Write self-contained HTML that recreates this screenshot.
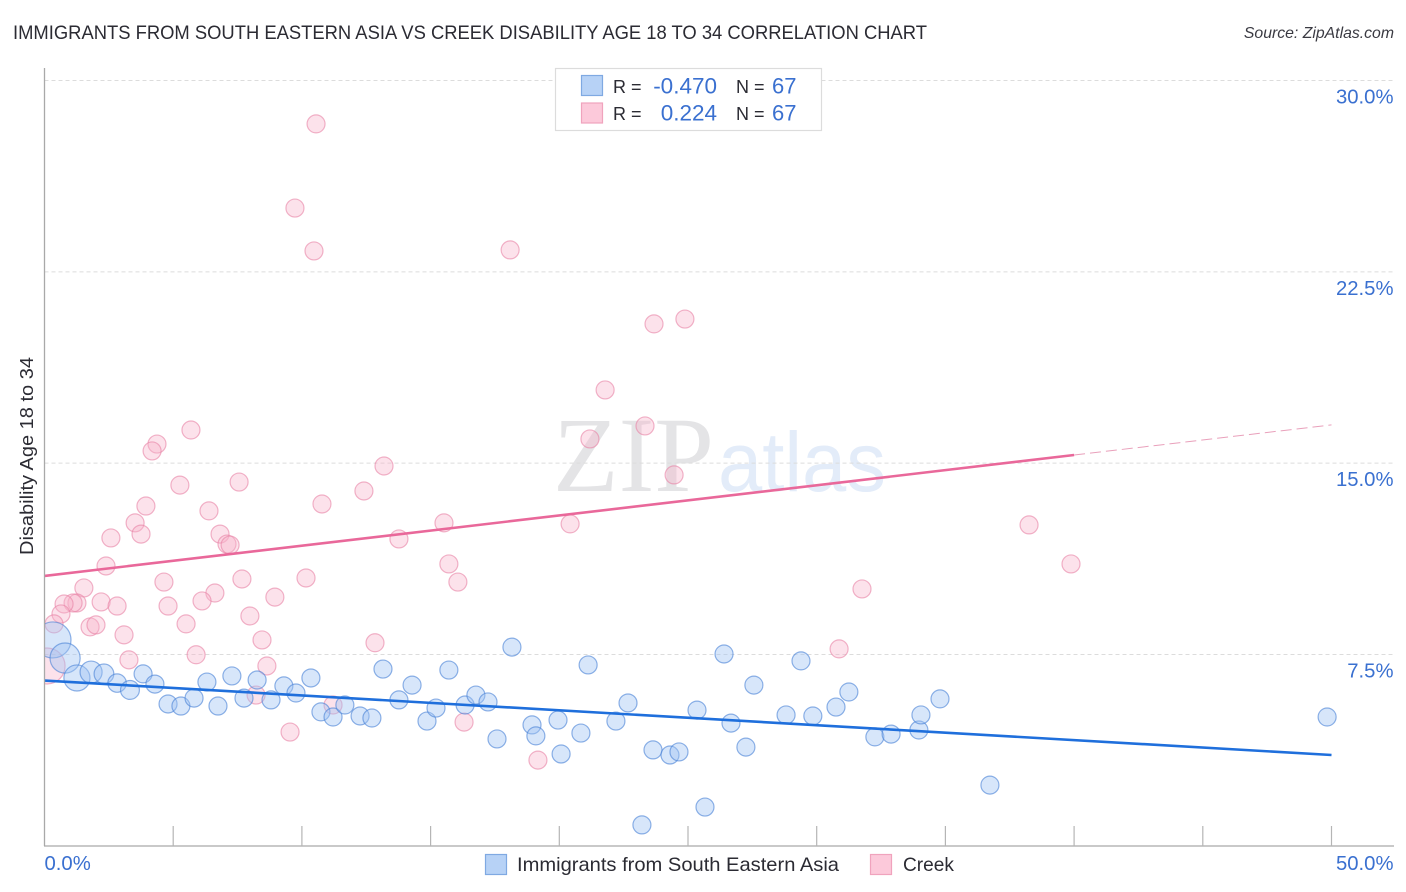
<!DOCTYPE html>
<html>
<head>
<meta charset="utf-8">
<title>Immigrants from South Eastern Asia vs Creek Disability Age 18 to 34 Correlation Chart</title>
<style>
html,body{margin:0;padding:0;background:#fff;}
svg{display:block;font-family:"Liberation Sans",sans-serif;}
</style>
</head>
<body>
<svg id="chart" width="1406" height="892" viewBox="0 0 1406 892" xmlns="http://www.w3.org/2000/svg">
  <defs>
    <clipPath id="plotClip"><rect x="44.5" y="60" width="1350" height="786"/></clipPath>
  </defs>
  <text x="13" y="39" font-size="19.5" fill="#2b2b33" textLength="914" lengthAdjust="spacingAndGlyphs">IMMIGRANTS FROM SOUTH EASTERN ASIA VS CREEK DISABILITY AGE 18 TO 34 CORRELATION CHART</text>
  <text x="1394" y="38" font-size="15.8" font-style="italic" fill="#3a3a42" text-anchor="end">Source: ZipAtlas.com</text>

  <g>
    <text x="553" y="491" font-family="'Liberation Serif',serif" font-size="107" fill="#e4e4e6" textLength="161" lengthAdjust="spacingAndGlyphs">ZIP</text>
    <text x="718" y="491" font-size="84" fill="#e3ecf9" textLength="168" lengthAdjust="spacingAndGlyphs">atlas</text>
  </g>

  <g id="grid"></g>
  <g id="pinkPts" clip-path="url(#plotClip)"></g>
  <g id="bluePts" clip-path="url(#plotClip)"></g>
  <g id="lines"></g>
  <g id="axes"></g>

  <text transform="translate(33,456) rotate(-90)" font-size="18" fill="#2b2b33" text-anchor="middle" textLength="198" lengthAdjust="spacingAndGlyphs">Disability Age 18 to 34</text>

  <g>
    <rect x="555.5" y="68.5" width="266" height="62" fill="#fff" stroke="#dcdcdc" stroke-width="1.2"/>
    <rect x="581.5" y="75.5" width="21" height="20" fill="#b7d2f6" stroke="#7fa9e2" stroke-width="1.2"/>
    <rect x="581.5" y="103" width="21" height="20" fill="#fcc9da" stroke="#f0a3bd" stroke-width="1.2"/>
    <text x="613" y="93" font-size="18" fill="#2b2b33">R =</text>
    <text x="717" y="93.5" font-size="22.5" fill="#3a70d0" text-anchor="end">-0.470</text>
    <text x="736" y="93" font-size="18" fill="#2b2b33">N =</text>
    <text x="772" y="93.5" font-size="22" fill="#3a70d0">67</text>
    <text x="613" y="120" font-size="18" fill="#2b2b33">R =</text>
    <text x="717" y="120.5" font-size="22.5" fill="#3a70d0" text-anchor="end">0.224</text>
    <text x="736" y="120" font-size="18" fill="#2b2b33">N =</text>
    <text x="772" y="120.5" font-size="22" fill="#3a70d0">67</text>
  </g>

  <g>
    <rect x="485.5" y="854.5" width="21" height="20" fill="#b7d2f6" stroke="#7fa9e2" stroke-width="1.2"/>
    <text x="517" y="871" font-size="19.5" fill="#2b2b33" textLength="322" lengthAdjust="spacingAndGlyphs">Immigrants from South Eastern Asia</text>
    <rect x="870.5" y="854.5" width="21" height="20" fill="#fcc9da" stroke="#f0a3bd" stroke-width="1.2"/>
    <text x="903" y="871" font-size="19.5" fill="#2b2b33" textLength="51" lengthAdjust="spacingAndGlyphs">Creek</text>
  </g>
</svg>

<script>
var yTickValues = [7.5, 15, 22.5, 30];
var yTickLabels = ["7.5%", "15.0%", "22.5%", "30.0%"];
var xTickValues = [0, 5, 10, 15, 20, 25, 30, 35, 40, 45, 50];
var xEndValues = [0, 50];
var xEndLabels = ["0.0%", "50.0%"];

var blueX = [0.33,0.80,1.26,1.81,2.31,2.82,3.32,3.83,4.29,4.80,5.30,5.81,6.31,6.74,7.28,7.75,8.26,8.80,9.30,9.77,10.35,10.74,11.21,11.67,12.26,12.72,13.15,13.77,14.28,14.86,15.21,15.71,16.34,16.76,17.23,17.58,18.16,18.94,19.09,19.95,20.07,20.84,21.12,22.20,22.67,23.21,23.64,24.30,24.65,25.35,25.66,26.40,26.67,27.25,27.56,28.81,29.39,29.85,30.75,31.25,32.26,32.89,33.97,34.05,34.79,36.73,49.83];
var blueY = [8.07,7.36,6.58,6.81,6.74,6.38,6.11,6.74,6.34,5.56,5.48,5.79,6.42,5.48,6.66,5.79,6.50,5.72,6.27,5.99,6.58,5.25,5.05,5.52,5.09,5.01,6.93,5.72,6.30,4.89,5.40,6.89,5.52,5.91,5.64,4.19,7.79,4.74,4.31,4.93,3.60,4.42,7.09,4.89,5.60,0.82,3.76,3.56,3.68,5.32,1.52,7.52,4.81,3.87,6.30,5.13,7.25,5.09,5.44,6.03,4.27,4.38,4.54,5.13,5.76,2.38,5.05];
var blueWeight = [4,2.8,2.1,1.5,1.2,1.05,1.1];

var pinkX = [2.39,4.64,1.53,7.67,10.16,6.62,6.12,8.95,2.20,2.82,4.80,1.26,1.11,0.76,7.98,0.64,5.50,0.37,1.77,2.00,8.45,3.09,3.28,5.89,8.64,0.10,8.22,11.21,9.54,10.55,9.73,10.47,18.09,23.68,24.88,21.78,23.33,21.19,5.69,4.37,4.18,5.26,7.56,13.19,12.41,10.78,3.94,6.39,3.52,3.75,2.58,6.82,7.09,7.21,15.52,20.42,13.77,15.71,16.06,24.46,38.25,39.88,31.76,30.87,12.84,16.30,19.17];
var pinkY = [10.97,10.34,10.11,10.46,10.50,9.91,9.60,9.75,9.56,9.40,9.40,9.52,9.52,9.48,9.01,9.09,8.70,8.70,8.58,8.66,8.07,8.27,7.29,7.49,7.05,7.05,5.91,5.52,4.46,28.30,25.00,23.32,23.36,20.46,20.65,17.87,16.46,15.95,16.30,15.75,15.48,14.14,14.26,14.89,13.91,13.40,13.32,13.13,12.66,12.22,12.07,12.22,11.83,11.79,12.66,12.62,12.03,11.05,10.34,14.54,12.58,11.05,10.07,7.72,7.96,4.85,3.36];
var pinkBigIndex = [25];
var pinkBigWeight = [4];

var blueTrendX = [0, 50];
var blueTrendY = [6.48, 3.56];
var pinkTrendX = [0, 40];
var pinkTrendY = [10.58, 15.32];
var pinkDashX = [40, 50];
var pinkDashY = [15.32, 16.5];

function xScale(v) { return 44.5 + v * 25.74; }
function yScale(v) { return 654.5 - (v - 7.5) * 25.51; }
function rScale(w) { return 9 * Math.sqrt(w); }

var NS = "http://www.w3.org/2000/svg";
function make(tag, parentId, attrs, txt) {
  var el = document.createElementNS(NS, tag);
  for (var k in attrs) { el.setAttribute(k, attrs[k]); }
  if (txt !== undefined) { el.textContent = txt; }
  document.getElementById(parentId).appendChild(el);
  return el;
}
var el, i;

for (i = 0; i < yTickValues.length; i++) {
  el = make("line", "grid", {x1: 44.5, x2: 1393, y1: yScale(yTickValues[i]), y2: yScale(yTickValues[i]), stroke: "#dcdcdc", "stroke-width": 1, "stroke-dasharray": "4 3"});
  
  
  el = make("text", "axes", {x: 1393.5, y: yScale(yTickValues[i]) + 23, "font-size": 20.3, fill: "#3a70d0", "text-anchor": "end"}, yTickLabels[i]);
  
  
}

el = make("line", "axes", {x1: 44.5, x2: 44.5, y1: 68, y2: 846, stroke: "#a9a9a9", "stroke-width": 1.3});


el = make("line", "axes", {x1: 44, x2: 1394, y1: 846, y2: 846, stroke: "#a9a9a9", "stroke-width": 1.3});



for (i = 1; i < xTickValues.length; i++) {
  el = make("line", "axes", {x1: xScale(xTickValues[i]), x2: xScale(xTickValues[i]), y1: 826, y2: 846, stroke: "#b5b5b5", "stroke-width": 1.2});
  
  
}
for (i = 0; i < xEndValues.length; i++) {
  el = make("text", "axes", {x: i === 0 ? xScale(xEndValues[i]) : 1393.5, y: 870, "font-size": 20.3, fill: "#3a70d0", "text-anchor": i === 0 ? "start" : "end"}, xEndLabels[i]);
  
  
}

for (i = 0; i < pinkX.length; i++) {
  var pw = pinkBigIndex.indexOf(i) >= 0 ? pinkBigWeight[pinkBigIndex.indexOf(i)] : 1;
  el = make("circle", "pinkPts", {cx: xScale(pinkX[i]), cy: yScale(pinkY[i]), r: rScale(pw), fill: "rgba(248,180,203,0.38)", stroke: "rgba(232,130,165,0.6)", "stroke-width": 1.2});
  
  
}
for (i = 0; i < blueX.length; i++) {
  var bw = i < blueWeight.length ? blueWeight[i] : 1;
  el = make("circle", "bluePts", {cx: xScale(blueX[i]), cy: yScale(blueY[i]), r: rScale(bw), fill: "rgba(160,195,242,0.42)", stroke: "rgba(75,130,215,0.62)", "stroke-width": 1.2});
  
  
}

el = make("line", "lines", {x1: xScale(blueTrendX[0]), y1: yScale(blueTrendY[0]), x2: xScale(blueTrendX[1]), y2: yScale(blueTrendY[1]), stroke: "#1f6fdc", "stroke-width": 2.6});


el = make("line", "lines", {x1: xScale(pinkTrendX[0]), y1: yScale(pinkTrendY[0]), x2: xScale(pinkTrendX[1]), y2: yScale(pinkTrendY[1]), stroke: "#e9689a", "stroke-width": 2.6});


el = make("line", "lines", {x1: xScale(pinkDashX[0]), y1: yScale(pinkDashY[0]), x2: xScale(pinkDashX[1]), y2: yScale(pinkDashY[1]), stroke: "#e9a0bb", "stroke-width": 1, "stroke-dasharray": "11 5"});


</script>
</body>
</html>
